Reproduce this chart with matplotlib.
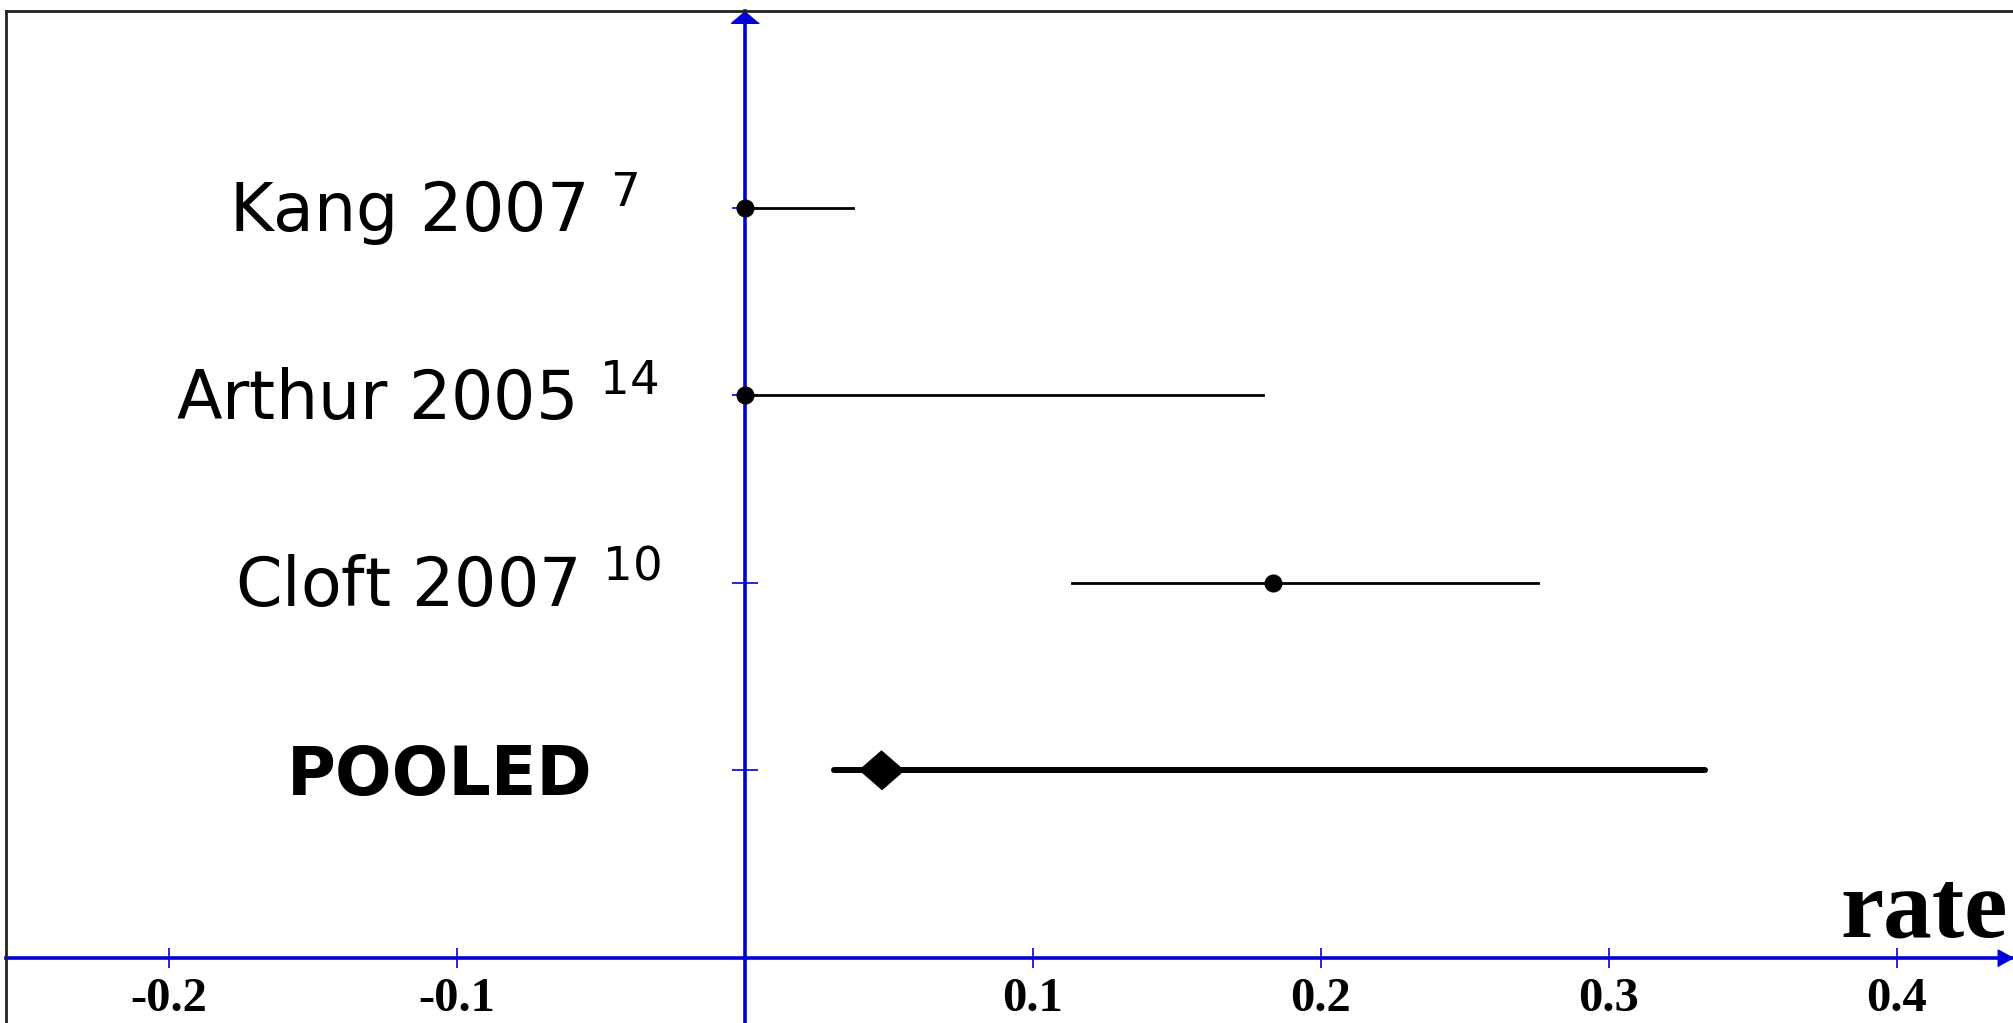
import numpy as np
import matplotlib
matplotlib.use('Agg')
import matplotlib.pyplot as plt
from matplotlib.lines import Line2D

# study data
studies = ['Kang 2007', 'Arthur 2005', 'Cloft 2007', 'POOLED']
refs = ['7', '14', '10', '']
rate = [0.0, 0.0, 0.1835, 0.0473]
ci_low = [0.0, 0.0, 0.1134, 0.031]
ci_high = [0.0375, 0.18, 0.2754, 0.3335]
rows = [4, 3, 2, 1]
xticks = [-0.2, -0.1, 0.1, 0.2, 0.3, 0.4]

# label centres (x, data units)
label_x = [-0.108, -0.114, -0.103, -0.106]

blue = '#0000d8'
W, H = 2013, 1023
fig = plt.figure(figsize = (W / 100, H / 100), dpi = 100)
left = 6 / W
top = 1 - 11 / H
ax = fig.add_axes([left, 0, 1 - left, top])
ax.set_xlim(-0.2566, 0.4403)
ax.set_ylim(-0.347, 5.05)

# axes through the origin
for s in ['top', 'right']:
    ax.spines[s].set_visible(False)
for s in ['left', 'bottom']:
    ax.spines[s].set_position(('data', 0))
    ax.spines[s].set_color(blue)
    ax.spines[s].set_linewidth(2.6)

ax.set_xticks(xticks)
ax.set_xticklabels(['%g' % t for t in xticks])
ax.set_yticks(rows)
ax.set_yticklabels([])
ax.tick_params(axis = 'x', direction = 'inout', length = 14, width = 1.2, color = blue, pad = 7, labelsize = 35)
ax.tick_params(axis = 'y', direction = 'inout', length = 19, width = 1.2, color = blue)
for lab in ax.get_xticklabels():
    lab.set_fontfamily('Liberation Serif')
    lab.set_fontweight('bold')

# arrow heads
ax.plot(1, 0, marker = [(0, 0), (-1, 0.55), (-1, -0.55)], ms = 22, color = blue,
        transform = ax.get_yaxis_transform(), clip_on = False)
ax.plot(0, 1, marker = [(0, 0), (-1, -0.85), (1, -0.85)], ms = 20, color = blue,
        transform = ax.get_xaxis_transform(), clip_on = False)

# intervals and estimates
for i in range(len(studies)):
    if studies[i] == 'POOLED':
        ax.plot([ci_low[i], ci_high[i]], [rows[i], rows[i]], color = 'black', lw = 4.3,
                solid_capstyle = 'round', zorder = 3)
        ax.plot(rate[i], rows[i], marker = [(-1, 0), (0, 0.87), (1, 0), (0, -0.87)], ms = 32,
                color = 'black', zorder = 4)
    else:
        ax.plot([ci_low[i], ci_high[i]], [rows[i], rows[i]], color = 'black', lw = 2, zorder = 3)
        ax.plot(rate[i], rows[i], marker = 'o', ms = 12, color = 'black', zorder = 4, clip_on = False)

# study labels
for i in range(len(studies)):
    if refs[i]:
        txt = studies[i] + ' $^{' + refs[i] + '}$'
        weight = 'normal'
    else:
        txt = studies[i]
        weight = 'bold'
    ax.annotate(txt, (label_x[i], rows[i]), xytext = (0, -17.5), textcoords = 'offset points',
                ha = 'center', va = 'baseline', fontsize = 48, fontweight = weight,
                family = 'DejaVu Sans')

ax.text(0.4385, 0.115, 'rate', ha = 'right', va = 'baseline', fontsize = 70,
        family = 'Liberation Serif', fontweight = 'bold')

# outer frame
fig.add_artist(Line2D([left, left], [0, top], color = '#222222', lw = 2, transform = fig.transFigure))
fig.add_artist(Line2D([left, 1], [top, top], color = '#222222', lw = 2, transform = fig.transFigure))

fig.savefig('out.png', dpi = 100)
